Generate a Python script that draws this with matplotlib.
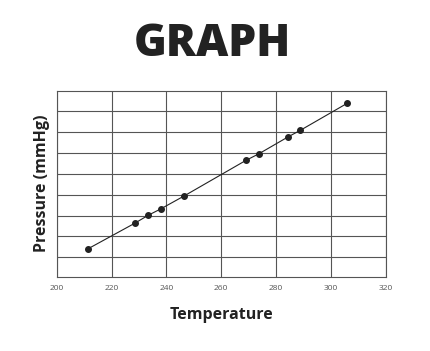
import matplotlib.pyplot as plt
from matplotlib import font_manager as fm
import numpy as np

# readings
temperature = [211.3, 228.4, 233.4, 237.9, 246.4, 269.1, 273.6, 284.5, 288.9, 305.9]
pressure = [1.40, 2.63, 3.02, 3.32, 3.94, 5.66, 5.96, 6.79, 7.10, 8.39]
x_ticks = [200, 220, 240, 260, 280, 300, 320]
y_grid = [1, 2, 3, 4, 5, 6, 7, 8]


def open_sans(fname, size):
    # pick the static Open Sans file by name so the weight is exact
    for f in fm.fontManager.ttflist:
        if f.fname.endswith(fname):
            return fm.FontProperties(fname=f.fname, size=size)
    return fm.FontProperties(family='DejaVu Sans', weight='bold', size=size)


plt.rcParams['font.family'] = ['Open Sans', 'DejaVu Sans']

fig = plt.figure(figsize=(4.31, 3.51), dpi=100)
ax = fig.add_axes([0.1315, 0.2117, 0.7635, 0.530])

ax.plot(temperature, pressure, color='#222222', linewidth=0.8,
        marker='o', markersize=4, markerfacecolor='#222222',
        markeredgecolor='#222222', zorder=3)

ax.set_xlim(200, 320)
ax.set_ylim(0.07, 9)
ax.set_xticks(x_ticks)
ax.set_yticks(y_grid)
ax.set_yticklabels([])
ax.grid(True, color='#555555', linewidth=0.8)
ax.tick_params(axis='both', length=0, labelsize=6, labelcolor='#555555', pad=6)
for s in ax.spines.values():
    s.set_color('#555555')
    s.set_linewidth(0.8)

ax.set_xlabel('Temperature', fontproperties=open_sans('OpenSans-Bold.ttf', 11.5),
              color='#222222', labelpad=11)
ax.set_ylabel('Pressure (mmHg)', fontproperties=open_sans('OpenSans-Bold.ttf', 11.5),
              color='#222222', labelpad=-1.5)

fig.text(0.492, 0.872, 'GRAPH', ha='center', va='center',
         fontproperties=open_sans('OpenSans-ExtraBold.ttf', 32), color='#222222')

fig.savefig('out.png', dpi=100)
